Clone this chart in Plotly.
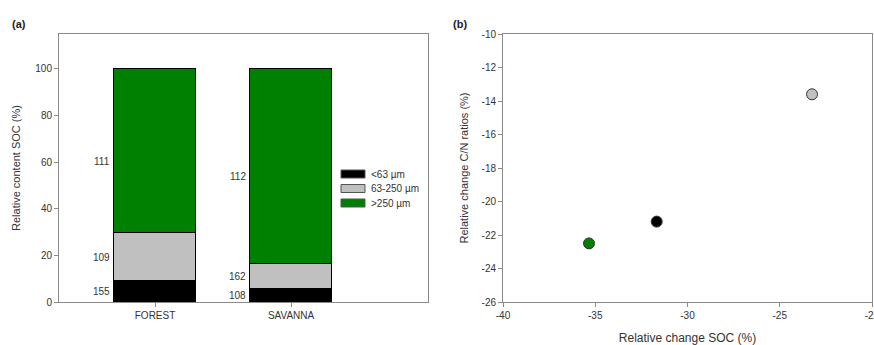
import plotly.graph_objects as go

# ---- data ----
sites = ["FOREST", "SAVANNA"]
fractions = ["<63 µm", "63-250 µm", ">250 µm"]
forest_pct = [9.0, 20.5, 70.5]
savanna_pct = [5.5, 10.8, 83.7]
forest_n = [155, 109, 111]
savanna_n = [108, 162, 112]
soc_change = [-31.67, -23.25, -35.34]
cn_change = [-21.2, -13.6, -22.5]
colors = ["#000000", "#c0c0c0", "#008000"]
a_yticks = [0, 20, 40, 60, 80, 100]
b_xticks = [-40, -35, -30, -25, -20]
b_yticks = [-26, -24, -22, -20, -18, -16, -14, -12, -10]

FONT = "Liberation Sans, Arial, sans-serif"
TXT = "#333333"
AX = "#8a8a8a"

fig = go.Figure()
xpos = list(range(len(sites)))
for i, f in enumerate(fractions):
    fig.add_trace(go.Bar(
        x=xpos, y=[forest_pct[i], savanna_pct[i]], width=0.6,
        marker=dict(color=colors[i], line=dict(color="#000000", width=1)),
        name=f, showlegend=False, xaxis="x", yaxis="y"))

# segment count labels
for j, (pcts, ns) in enumerate([(forest_pct, forest_n), (savanna_pct, savanna_n)]):
    base = 0
    for p, n in zip(pcts, ns):
        fig.add_annotation(x=j - 0.3, y=base + p / 2, xref="x", yref="y", text=str(n),
                           showarrow=False, xanchor="right", xshift=-2,
                           yshift=-10 if p > 50 else 0,
                           font=dict(size=10, color=TXT, family=FONT))
        base += p

# scatter
for i, f in enumerate(fractions):
    fig.add_trace(go.Scatter(
        x=[soc_change[i]], y=[cn_change[i]], mode="markers", name=f, showlegend=False,
        marker=dict(color=colors[i], size=11, line=dict(color="#333333", width=1)),
        xaxis="x2", yaxis="y2"))

# manual legend (a)
lx0, ly0, dy = 341, 174, 14.5
for i, f in enumerate(fractions):
    yc = ly0 + i * dy
    fig.add_shape(type="rect", xref="paper", yref="paper",
                  x0=lx0 / 874, x1=(lx0 + 24) / 874,
                  y0=1 - (yc + 4) / 345, y1=1 - (yc - 4) / 345,
                  fillcolor=colors[i], line=dict(color="#555555", width=1))
    fig.add_annotation(xref="paper", yref="paper", x=(lx0 + 28) / 874, y=1 - yc / 345,
                       text=f, showarrow=False, xanchor="left", yanchor="middle",
                       font=dict(size=10, color=TXT, family=FONT))

fig.add_annotation(xref="paper", yref="paper", x=10 / 874, y=1 - 24 / 345, text="<b>(a)</b>",
                   showarrow=False, xanchor="left", yanchor="middle",
                   font=dict(size=11, color="#222222", family=FONT))
fig.add_annotation(xref="paper", yref="paper", x=451 / 874, y=1 - 24 / 345, text="<b>(b)</b>",
                   showarrow=False, xanchor="left", yanchor="middle",
                   font=dict(size=11, color="#222222", family=FONT))

axcommon = dict(showline=True, linecolor=AX, linewidth=1, mirror=True, showgrid=False,
                zeroline=False, ticks="outside", ticklen=4, tickcolor=AX,
                ticklabeloverflow="allow",
                tickfont=dict(size=10, color=TXT, family=FONT), automargin=False)

def lab(v):
    return str(v)

fig.update_layout(
    width=874, height=345, margin=dict(l=0, r=0, t=0, b=0),
    paper_bgcolor="white", plot_bgcolor="white", barmode="stack", bargap=0,
    xaxis=dict(domain=[59 / 874, 428 / 874], range=[-0.706, 2.007],
               tickvals=xpos, ticktext=sites, anchor="y", **axcommon),
    yaxis=dict(domain=[1 - 302 / 345, 1 - 34 / 345], range=[0, 115],
               tickvals=a_yticks, ticktext=[lab(v) for v in a_yticks], anchor="x",
               title=dict(text="Relative content SOC (%)", standoff=12,
                          font=dict(size=11, color=TXT, family=FONT)), **axcommon),
    xaxis2=dict(domain=[503 / 874, 872 / 874], range=[-40, -20], anchor="y2",
                tickvals=b_xticks, ticktext=[lab(v) for v in b_xticks],
                title=dict(text="Relative change SOC (%)", standoff=14,
                           font=dict(size=12, color=TXT, family=FONT)), **axcommon),
    yaxis2=dict(domain=[1 - 302 / 345, 1 - 34 / 345], range=[-26, -10], anchor="x2",
                tickvals=b_yticks, ticktext=[lab(v) for v in b_yticks],
                title=dict(text="Relative change C/N ratios (%)", standoff=10,
                           font=dict(size=11, color=TXT, family=FONT)), **axcommon),
)

fig.write_html("out.html")
